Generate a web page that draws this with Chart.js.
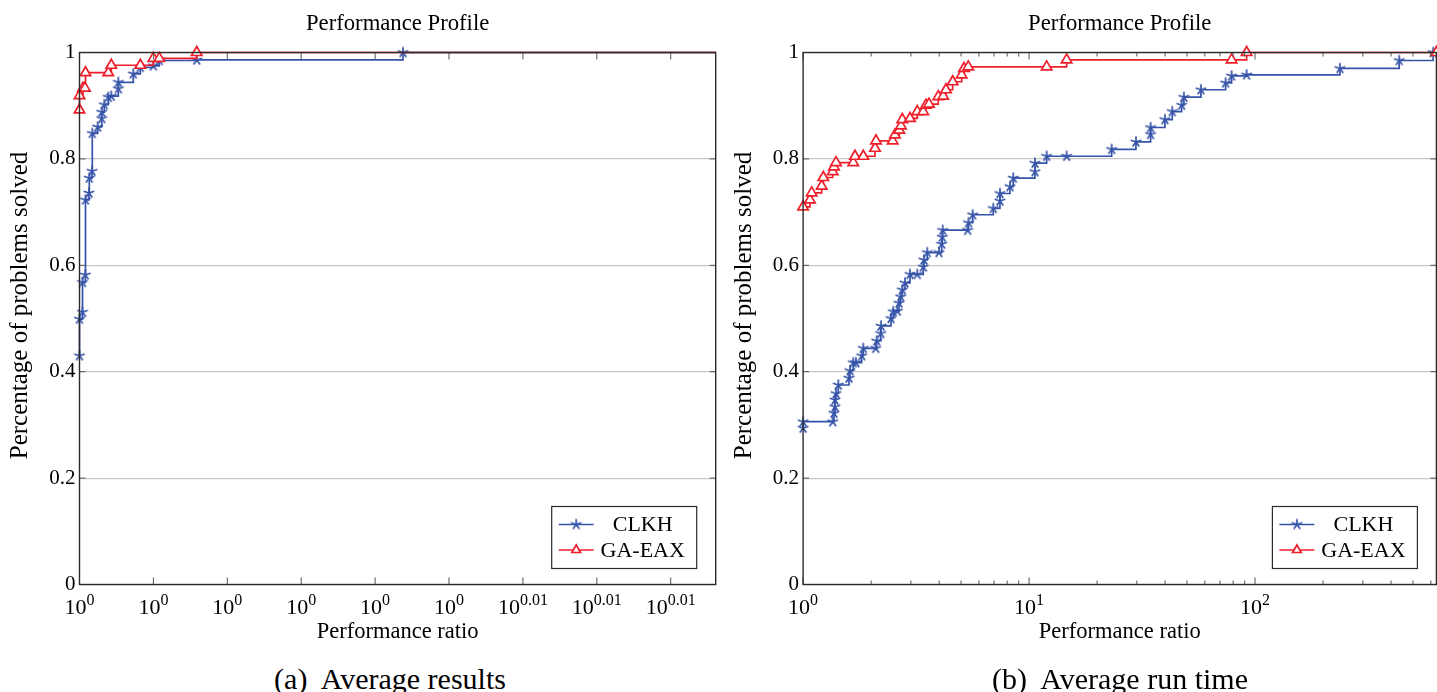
<!DOCTYPE html>
<html>
<head>
<meta charset="utf-8">
<script src="https://cdn.jsdelivr.net/npm/chart.js@4.4.0/dist/chart.umd.min.js"></script>
<style>
  html, body { margin: 0; padding: 0; background: #fff; }
  body { width: 1437px; height: 692px; position: relative; overflow: hidden; font-family: "Liberation Serif", serif; color: #000; }
  canvas { position: absolute; top: 0; }
  .caption { position: absolute; top: 661px; width: 600px; font-size: 30px; line-height: 36px; text-align: center; white-space: pre; }
</style>
</head>
<body>
<canvas id="avgResults" width="730" height="660" style="left:0;width:730px;height:660px"></canvas>
<canvas id="avgRunTime" width="715" height="660" style="left:722px;width:715px;height:660px"></canvas>
<div class="caption" style="left:90px">(a)  Average results</div>
<div class="caption" style="left:820px">(b)  Average run time</div>
<script>
// ---- datos ----
// (a) Average results: eje x log muy estrecho
const leftTickValues = [1, 1.002074, 1.004153, 1.006236, 1.008324, 1.010415, 1.012512, 1.014612, 1.016717];
const leftTickExps = ['0', '0', '0', '0', '0', '0', '0.01', '0.01', '0.01'];
const leftXMax = 1.018;

const clkhAvgX = [1, 1, 1.000084, 1.000084, 1.000163, 1.000168, 1.000266, 1.000275, 1.000351, 1.000359,
  1.00051, 1.000623, 1.000623, 1.000696, 1.000808, 1.000892, 1.001089, 1.001089, 1.00151, 1.001707,
  1.002072, 1.00224, 1.003292, 1.009113, 1.018];
const clkhAvgY = [0.43, 0.499, 0.512, 0.568, 0.582, 0.723, 0.736, 0.764, 0.777, 0.848,
  0.86, 0.876, 0.888, 0.902, 0.916, 0.918, 0.932, 0.944, 0.96, 0.972,
  0.975, 0.985, 0.986, 1, 1];

const gaeaxAvgX = [1, 1, 1.000098, 1.000154, 1.000168, 1.000808, 1.000892, 1.001707, 1.002072, 1.00224, 1.003292, 1.018];
const gaeaxAvgY = [0.892, 0.919, 0.933, 0.933, 0.962, 0.962, 0.976, 0.976, 0.989, 0.989, 1, 1];

// (b) Average run time
const rightMajorTicks = [1, 10, 100];
const rightTickExps = ['0', '1', '2'];
const rightMinorTicks = [2, 3, 4, 5, 6, 7, 8, 9, 20, 30, 40, 50, 60, 70, 80, 90, 200, 300, 400, 500, 600];
const rightXMax = 635;

const clkhTimeX = [1, 1, 1.3522, 1.3699, 1.3839, 1.3839, 1.3981, 1.4312, 1.5963, 1.6126,
  1.6678, 1.7143, 1.8168, 1.8467, 2.0959, 2.1174, 2.2054, 2.2122, 2.449, 2.507,
  2.6113, 2.657, 2.7035, 2.7479, 2.8245, 2.9721, 3.2016, 3.403, 3.4274, 3.5445,
  3.9932, 4.1046, 4.1298, 4.1467, 5.3502, 5.394, 5.63, 6.9446, 7.4336, 7.4336,
  8.2316, 8.5131, 10.62, 10.62, 11.963, 14.666, 23.206, 29.72, 34.516, 34.516,
  39.932, 43.02, 47.33, 48.45, 57.63, 74.11, 78.78, 91.81, 237.5, 434.6,
  614.5, 635];
const clkhTimeY = [0.294, 0.306, 0.306, 0.322, 0.334, 0.347, 0.359, 0.375, 0.388, 0.402,
  0.417, 0.417, 0.43, 0.444, 0.444, 0.458, 0.472, 0.486, 0.5, 0.513,
  0.514, 0.529, 0.541, 0.554, 0.567, 0.583, 0.583, 0.597, 0.61, 0.624,
  0.624, 0.64, 0.653, 0.666, 0.666, 0.68, 0.695, 0.707, 0.721, 0.735,
  0.748, 0.764, 0.776, 0.792, 0.805, 0.805, 0.818, 0.832, 0.846, 0.859,
  0.874, 0.889, 0.901, 0.916, 0.93, 0.943, 0.956, 0.958, 0.97, 0.985,
  1, 1];

const gaeaxTimeX = [1, 1.0728, 1.0916, 1.2088, 1.2286, 1.3522, 1.3699, 1.3981, 1.6678, 1.697,
  1.8467, 2.0809, 2.1024, 2.4918, 2.5509, 2.6651, 2.7117, 2.7479, 2.9721, 3.2016,
  3.403, 3.4979, 3.6064, 3.9648, 4.1718, 4.2881, 4.5917, 5.0321, 5.1514, 5.383,
  11.963, 14.666, 78.78, 91.81, 635];
const gaeaxTimeY = [0.71, 0.723, 0.736, 0.749, 0.765, 0.776, 0.785, 0.793, 0.793, 0.805,
  0.805, 0.82, 0.834, 0.834, 0.845, 0.854, 0.862, 0.874, 0.876, 0.889,
  0.889, 0.901, 0.903, 0.917, 0.918, 0.93, 0.945, 0.958, 0.97, 0.973,
  0.973, 0.986, 0.986, 1, 1];

// ---- estilo ----
const BLUE = '#3553a8';
const RED = '#ee1f2b';
const SERIF = '"Liberation Serif", "DejaVu Serif", serif';

function starMark(color) {
  // asterisco de 5 brazos como el "star" de pgfplots
  const c = document.createElement('canvas');
  c.width = 14; c.height = 14;
  const g = c.getContext('2d');
  g.strokeStyle = color;
  g.lineWidth = 1.7;
  g.beginPath();
  for (let k = 0; k < 5; k++) {
    const a = -Math.PI / 2 + k * 2 * Math.PI / 5;
    g.moveTo(7, 7);
    g.lineTo(7 + 5.6 * Math.cos(a), 7 + 5.6 * Math.sin(a));
  }
  g.stroke();
  return c;
}
const STAR = starMark(BLUE);

function series(xs, ys) {
  return xs.map((x, i) => ({ x: x, y: ys[i] }));
}

function clkhDataset(xs, ys) {
  const last = xs.length - 1;
  return {
    label: 'CLKH', data: series(xs, ys), order: 1,
    borderColor: BLUE, borderWidth: 1.7, stepped: 'before', fill: false,
    pointStyle: STAR, pointBorderColor: BLUE, pointBackgroundColor: BLUE,
    pointRadius: ctx => ctx.dataIndex === last ? 0 : 4,
    clip: 10
  };
}

function gaeaxDataset(xs, ys, markLast) {
  const last = xs.length - 1;
  return {
    label: 'GA-EAX', data: series(xs, ys), order: 0,
    borderColor: RED, borderWidth: 1.7, stepped: 'before', fill: false,
    pointStyle: 'triangle', pointBorderColor: RED, pointBackgroundColor: '#fff', pointBorderWidth: 1.7,
    pointRadius: ctx => (ctx.dataIndex === last && !markLast) ? 0 : 6,
    clip: 10
  };
}

// marco, ticks del eje x con exponentes, titulos y leyenda
const profileDecor = {
  id: 'profileDecor',
  afterDraw(chart, args, opts) {
    const ctx = chart.ctx;
    const a = chart.chartArea;
    const x = chart.scales.x, y = chart.scales.y;
    ctx.save();

    // tick marks
    ctx.strokeStyle = '#555';
    ctx.lineWidth = 1;
    ctx.beginPath();
    const mark = (v, len) => {
      const px = x.getPixelForValue(v);
      ctx.moveTo(px, a.bottom); ctx.lineTo(px, a.bottom - len);
      ctx.moveTo(px, a.top); ctx.lineTo(px, a.top + len);
    };
    opts.majors.forEach(v => mark(v, 7));
    (opts.minors || []).forEach(v => mark(v, 4));
    y.ticks.forEach(t => {
      const py = y.getPixelForValue(t.value);
      ctx.moveTo(a.left, py); ctx.lineTo(a.left + 6, py);
      ctx.moveTo(a.right, py); ctx.lineTo(a.right - 6, py);
    });
    ctx.stroke();

    // marco
    ctx.strokeStyle = '#2a2a2a';
    ctx.lineWidth = 1.4;
    ctx.strokeRect(a.left, a.top, a.right - a.left, a.bottom - a.top);

    // etiquetas 10^k
    ctx.fillStyle = '#000';
    ctx.textBaseline = 'alphabetic';
    ctx.textAlign = 'left';
    opts.majors.forEach((v, i) => {
      const px = x.getPixelForValue(v);
      ctx.font = '22px ' + SERIF;
      const w1 = ctx.measureText('10').width;
      ctx.font = '16px ' + SERIF;
      const w2 = ctx.measureText(opts.exps[i]).width;
      const x0 = px - (w1 + w2) / 2;
      ctx.font = '22px ' + SERIF;
      ctx.fillText('10', x0, a.bottom + 29);
      ctx.font = '16px ' + SERIF;
      ctx.fillText(opts.exps[i], x0 + w1, a.bottom + 20);
    });

    // titulo
    ctx.font = '22.7px ' + SERIF;
    ctx.textAlign = 'center';
    ctx.textBaseline = 'middle';
    ctx.fillText(opts.title, (a.left + a.right) / 2, 24);

    // titulo eje y
    ctx.save();
    ctx.translate(opts.yTitleX, (a.top + a.bottom) / 2 - 13);
    ctx.rotate(-Math.PI / 2);
    ctx.font = '25px ' + SERIF;
    ctx.fillText('Percentage of problems solved', 0, 0);
    ctx.restore();

    // leyenda
    const bw = 145, bh = 62;
    const bx = a.right - 19 - bw, by = a.bottom - 16 - bh;
    ctx.fillStyle = '#fff';
    ctx.fillRect(bx, by, bw, bh);
    ctx.strokeStyle = '#2a2a2a';
    ctx.lineWidth = 1.2;
    ctx.strokeRect(bx, by, bw, bh);
    chart.data.datasets.forEach((ds, i) => {
      const ry = by + 18 + i * 25.5;
      ctx.strokeStyle = ds.borderColor;
      ctx.lineWidth = ds.borderWidth;
      ctx.beginPath();
      ctx.moveTo(bx + 7, ry); ctx.lineTo(bx + 42, ry);
      ctx.stroke();
      ctx.fillStyle = ds.pointBackgroundColor;
      ctx.lineWidth = ds.pointBorderWidth || 1;
      Chart.helpers.drawPoint(ctx, {
        pointStyle: ds.pointStyle, radius: ds.pointStyle === 'triangle' ? 5 : 4,
        borderWidth: ds.pointBorderWidth || 1, rotation: 0
      }, bx + 24.5, ry);
      ctx.fillStyle = '#000';
      ctx.font = '22px ' + SERIF;
      ctx.textAlign = 'center';
      ctx.textBaseline = 'middle';
      ctx.fillText(ds.label, bx + 91, ry + 1);
    });
    ctx.restore();
  }
};

function yAxis(width) {
  return {
    min: 0, max: 1,
    ticks: {
      stepSize: 0.2, padding: 4, color: '#000',
      font: { family: SERIF, size: 21 },
      callback: v => +v.toFixed(1)
    },
    grid: { color: '#c6c6c6', lineWidth: 1.2, drawTicks: false },
    border: { display: false },
    afterFit: s => { s.width = width; }
  };
}

function xAxis(min, max, ticks) {
  return {
    type: 'logarithmic', min: min, max: max,
    ticks: { display: false },
    grid: { display: false },
    border: { display: false },
    title: {
      display: true, text: 'Performance ratio', color: '#000',
      font: { family: SERIF, size: 22.5 }, padding: { top: 0, bottom: 14 }
    },
    afterBuildTicks: s => { s.ticks = ticks.map(v => ({ value: v })); },
    afterFit: s => { s.height = 75.5; }
  };
}

function baseOptions(padRight, yWidth, xScale, decor) {
  return {
    responsive: false,
    animation: false,
    events: [],
    layout: { autoPadding: false, padding: { top: 52.5, right: padRight, bottom: 0, left: 0 } },
    plugins: { legend: { display: false }, tooltip: { enabled: false }, profileDecor: decor },
    scales: { x: xScale, y: yAxis(yWidth) }
  };
}

new Chart(document.getElementById('avgResults'), {
  type: 'line',
  data: { datasets: [clkhDataset(clkhAvgX, clkhAvgY), gaeaxDataset(gaeaxAvgX, gaeaxAvgY, false)] },
  options: baseOptions(14.3, 79.5, xAxis(1, leftXMax, leftTickValues),
    { majors: leftTickValues, exps: leftTickExps, title: 'Performance Profile', yTitleX: 20 }),
  plugins: [profileDecor]
});

new Chart(document.getElementById('avgRunTime'), {
  type: 'line',
  data: { datasets: [clkhDataset(clkhTimeX, clkhTimeY), gaeaxDataset(gaeaxTimeX, gaeaxTimeY, true)] },
  options: baseOptions(0.6, 81.1, xAxis(1, rightXMax, rightMajorTicks.concat(rightMinorTicks)),
    { majors: rightMajorTicks, minors: rightMinorTicks, exps: rightTickExps, title: 'Performance Profile', yTitleX: 22 }),
  plugins: [profileDecor]
});
</script>
</body>
</html>
